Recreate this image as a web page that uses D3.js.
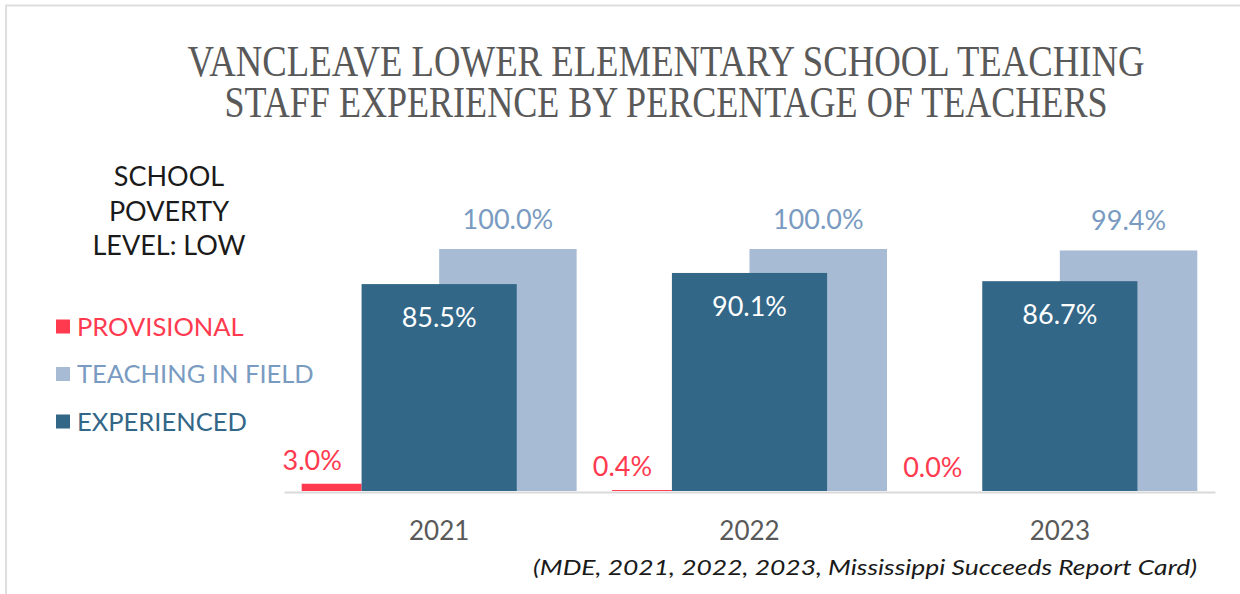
<!DOCTYPE html>
<html>
<head>
<meta charset="utf-8">
<script src="https://cdn.jsdelivr.net/npm/d3@7"></script>
<style>
  html, body { margin: 0; padding: 0; background: #fff; }
  svg { display: block; }
  text { font-family: Lato, "Open Sans", sans-serif; }
</style>
</head>
<body>
<svg id="chart" width="1240" height="594"></svg>
<script>
const years = ["2021", "2022", "2023"];
const provisional = [3.0, 0.4, 0.0];
const teachingInField = [100.0, 100.0, 99.4];
const experienced = [85.5, 90.1, 86.7];
const seriesNames = ["PROVISIONAL", "TEACHING IN FIELD", "EXPERIENCED"];
const titleLines = ["VANCLEAVE LOWER ELEMENTARY SCHOOL TEACHING", "STAFF EXPERIENCE BY PERCENTAGE OF TEACHERS"];
const povertyLines = ["SCHOOL", "POVERTY", "LEVEL: LOW"];
const sourceText = "(MDE,  2021, 2022, 2023, Mississippi Succeeds Report Card)";

const colors = { prov: "#ff3a4f", field: "#a7bcd4", exp: "#336788" };
const textColors = { prov: "#ff3a4f", field: "#7a9bc1", exp: "#336788" };

const svg = d3.select("#chart");

// border
svg.append("line").attr("x1", 6).attr("x2", 6).attr("y1", 5).attr("y2", 594)
  .attr("stroke", "#dedede").attr("stroke-width", 2);
svg.append("line").attr("x1", 5).attr("x2", 1240).attr("y1", 5.5).attr("y2", 5.5)
  .attr("stroke", "#dedede").attr("stroke-width", 2);

// title
const titleSpecs = [{ y: 76, len: 957 }, { y: 117, len: 883 }];
titleLines.forEach((t, i) => {
  svg.append("text")
    .attr("x", 666).attr("y", titleSpecs[i].y)
    .attr("text-anchor", "middle")
    .attr("textLength", titleSpecs[i].len)
    .attr("lengthAdjust", "spacingAndGlyphs")
    .style("font-family", "'Liberation Serif', 'DejaVu Serif', serif")
    .style("font-size", "45px")
    .attr("fill", "#595959")
    .text(t);
});

// poverty note
povertyLines.forEach((t, i) => {
  svg.append("text")
    .attr("x", 169).attr("y", 186 + i * 34.5)
    .attr("text-anchor", "middle")
    .style("font-size", "27px")
    .attr("fill", "#1a1a1a")
    .text(t);
});

// legend
const legendKeys = ["prov", "field", "exp"];
legendKeys.forEach((k, i) => {
  const by = 335.5 + i * 47.5;
  svg.append("rect").attr("x", 56).attr("y", by - 16).attr("width", 14).attr("height", 14)
    .attr("fill", colors[k]);
  svg.append("text").attr("x", 77).attr("y", by)
    .style("font-size", "25.5px")
    .attr("fill", textColors[k])
    .text(seriesNames[i]);
});

// scales
const x = d3.scaleBand().domain(years).range([284, 1215]).padding(0);
const y = d3.scaleLinear().domain([0, 100]).range([491, 249]);
const step = x.bandwidth();
const cx = d => x(d) + step / 2;

const data = years.map((yr, i) => ({
  year: yr, prov: provisional[i], field: teachingInField[i], exp: experienced[i]
}));

const g = svg.append("g");

// provisional bars
g.selectAll(".prov").data(data).join("rect")
  .attr("x", d => cx(d.year) - 0.443 * step)
  .attr("width", (0.443 - 0.25) * step)
  .attr("y", d => y(d.prov))
  .attr("height", d => y(0) - y(d.prov))
  .attr("fill", colors.prov);

// teaching in field bars
g.selectAll(".field").data(data).join("rect")
  .attr("x", d => cx(d.year))
  .attr("width", 0.443 * step)
  .attr("y", d => y(d.field))
  .attr("height", d => y(0) - y(d.field))
  .attr("fill", colors.field);

// experienced bars
g.selectAll(".exp").data(data).join("rect")
  .attr("x", d => cx(d.year) - 0.25 * step)
  .attr("width", 0.5 * step)
  .attr("y", d => y(d.exp))
  .attr("height", d => y(0) - y(d.exp))
  .attr("fill", colors.exp);

// baseline axis
const axis = d3.axisBottom(x).tickSize(0).tickPadding(0);
const ax = svg.append("g").attr("transform", `translate(0,${y(0) + 1})`).call(axis);
ax.select(".domain").attr("stroke", "#d9d9d9").attr("stroke-width", 2);
ax.selectAll(".tick text")
  .attr("dy", 0).attr("y", 48)
  .style("font-family", "Lato, sans-serif")
  .style("font-size", "26px")
  .attr("fill", "#595959");

const fmt = v => v.toFixed(1) + "%";

// labels
g.selectAll(".provLab").data(data).join("text")
  .attr("x", d => cx(d.year) - 127)
  .attr("y", d => y(d.prov) - 14)
  .attr("text-anchor", "middle")
  .style("font-size", "27px")
  .attr("fill", textColors.prov)
  .text(d => fmt(d.prov));

g.selectAll(".fieldLab").data(data).join("text")
  .attr("x", d => cx(d.year) + 0.2215 * step)
  .attr("y", d => y(d.field) - 20)
  .attr("text-anchor", "middle")
  .style("font-size", "27px")
  .attr("fill", textColors.field)
  .text(d => fmt(d.field));

g.selectAll(".expLab").data(data).join("text")
  .attr("x", d => cx(d.year))
  .attr("y", d => y(d.exp) + 43)
  .attr("text-anchor", "middle")
  .style("font-size", "27px")
  .attr("fill", "#ffffff")
  .text(d => fmt(d.exp));

// source
svg.append("text")
  .attr("x", 1197).attr("y", 575)
  .attr("text-anchor", "end")
  .attr("textLength", 664)
  .attr("lengthAdjust", "spacingAndGlyphs")
  .style("font-size", "22px")
  .style("font-style", "italic")
  .attr("fill", "#1a1a1a")
  .text(sourceText);
</script>
</body>
</html>
